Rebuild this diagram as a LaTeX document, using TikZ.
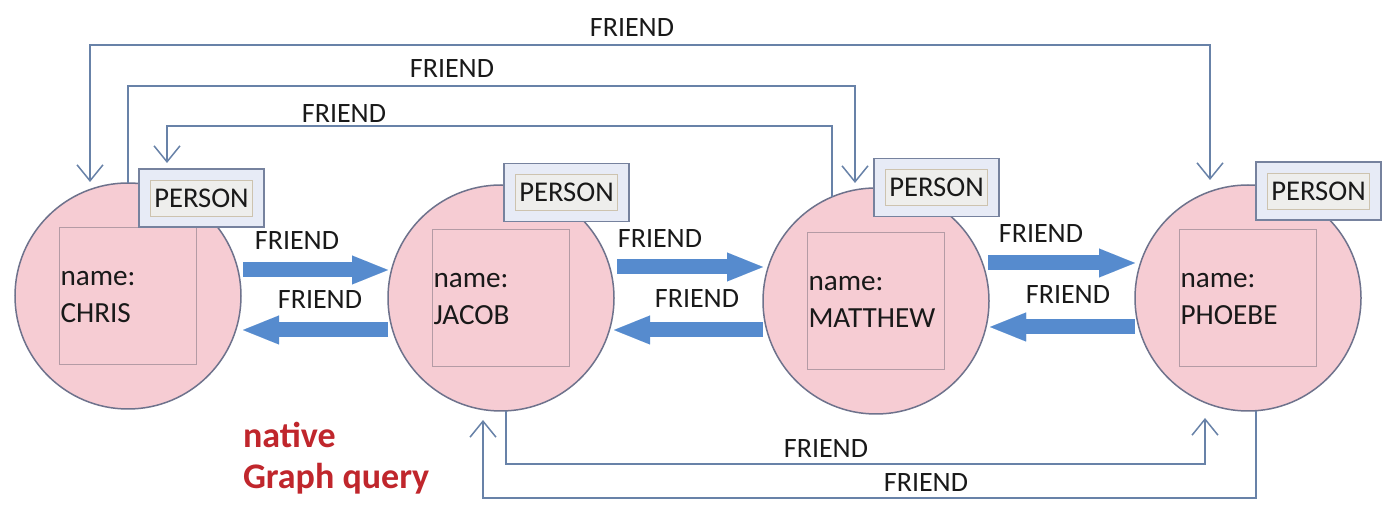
\documentclass[tikz,border=0pt]{standalone}
\usepackage{fontspec}
\setmainfont{Carlito}
\usetikzlibrary{arrows.meta,calc}

\definecolor{nodepink}{RGB}{246,204,211}
\definecolor{nodeedge}{RGB}{110,114,140}
\definecolor{propedge}{RGB}{180,155,165}
\definecolor{lblfill}{RGB}{231,235,246}
\definecolor{lbledge}{RGB}{118,130,158}
\definecolor{tagfill}{RGB}{238,238,236}
\definecolor{tagedge}{RGB}{205,195,175}
\definecolor{linkblue}{RGB}{104,130,168}
\definecolor{fatblue}{RGB}{86,139,206}
\definecolor{textdark}{RGB}{25,25,25}
\definecolor{notered}{RGB}{192,38,44}

\begin{document}
\begin{tikzpicture}[x=0.5pt,y=-0.5pt,
  every node/.style={inner sep=0pt,outer sep=0pt,text=textdark,
    font=\fontsize{14}{17}\selectfont},
  personcircle/.style={circle,draw=nodeedge,fill=nodepink,line width=0.75pt,
    minimum size=113pt},
  propbox/.style={draw=propedge,line width=0.5pt,minimum width=68.5pt,
    minimum height=68.5pt},
  lblbox/.style={draw=lbledge,fill=lblfill,line width=0.9pt,
    minimum width=62.5pt,minimum height=29pt},
  tagbox/.style={draw=tagedge,fill=tagfill,line width=0.4pt,
    minimum width=51pt,minimum height=18pt,font=\fontsize{14.3}{17}\selectfont},
  propline/.style={anchor=base west,font=\fontsize{14.6}{17}\selectfont},
  relname/.style={anchor=base},
  link/.style={draw=linkblue,line width=0.75pt,line join=miter},
  openhead/.style={-{Straight Barb[length=8pt,width=13pt]}},
  bothheads/.style={{Straight Barb[length=8pt,width=13pt]}-{Straight Barb[length=8pt,width=13pt]}},
  fat/.style={draw=fatblue,line width=7.5pt,
    -{Triangle[length=18pt,width=14.5pt,line width=0.01pt]}},
  note/.style={anchor=base west,text=notered,
    font=\bfseries\fontsize{18}{21}\selectfont}
]
\path[use as bounding box,fill=white] (0,0) rectangle (1391,517);

% person nodes
\node[personcircle] (chris)   at (128,296) {};
\node[personcircle] (jacob)   at (501,298) {};
\node[personcircle] (matthew) at (876,301) {};
\node[personcircle] (phoebe)  at (1248,298) {};

% property boxes with their text
\foreach \p/\who in {chris/CHRIS,jacob/JACOB,matthew/MATTHEW,phoebe/PHOEBE}{
  \node[propbox] (\p props) at (\p) {};
  \node[propline] (\p key) at ($(\p props.north west)+(1,58)$) {name:};
  \node[propline] (\p val) at ($(\p props.north west)+(1,95)$) {\who};
}

% label boxes
\node[lblbox] (chrislbl)   at (201.5,198) {};
\node[lblbox] (jacoblbl)   at (566.5,192.5) {};
\node[lblbox] (matthewlbl) at (936.5,187.5) {};
\node[lblbox] (phoebelbl)  at (1318.5,191) {};
\foreach \p in {chris,jacob,matthew,phoebe}{
  \node[tagbox] (\p tag) at (\p lbl) {PERSON};
}

% thin relationship routes above the nodes
\coordinate (aTip) at ($(matthew.north)+(-21,-5)$);
\draw[link,openhead] (chris.north) -- (chris.north |- 0,86)
  -- (aTip |- 0,86) -- (aTip);
\node[relname] (relA) at (452,78) {FRIEND};

\coordinate (bLeft)  at ($(chris.north)+(-38,-1)$);
\coordinate (bRight) at ($(phoebe.north)+(-38,-5)$);
\draw[link,bothheads] (bLeft) -- (bLeft |- 0,45) -- (bRight |- 0,45) -- (bRight);
\node[relname] (relB) at (632,37) {FRIEND};

\coordinate (cTip) at ($(chrislbl.north west)+(28,-6)$);
\draw[link,openhead] (matthew.113) -- (matthew.113 |- 0,126)
  -- (cTip |- 0,126) -- (cTip);
\node[relname] (relC) at (344,123) {FRIEND};

% thin relationship routes below the nodes
\coordinate (dTip) at ($(phoebe.south)+(-43,7)$);
\draw[link,openhead] ($(jacob.south)+(5,0)$) -- ++(0,53) -| (dTip);
\node[relname] (relD) at (826,458) {FRIEND};

\coordinate (eTip) at ($(jacob.south)+(-18,9)$);
\draw[link,openhead] ($(phoebe.south)+(8,0)$) -- ++(0,87) -| (eTip);
\node[relname] (relE) at (926,492) {FRIEND};

% block arrows between neighbours
\draw[fat] ($(chris.east)+(2,-26)$) -- ($(jacob.west)+(0,-28)$);
\draw[fat] ($(jacob.west)+(0,32)$) -- ($(chris.east)+(2,34)$);
\draw[fat] ($(jacob.east)+(3,-31)$) -- ($(matthew.west)+(0,-34)$);
\draw[fat] ($(matthew.west)+(0,29)$) -- ($(jacob.east)+(0,32)$);
\draw[fat] ($(matthew.east)+(-1,-38)$) -- ($(phoebe.west)+(0,-35)$);
\draw[fat] ($(phoebe.west)+(0,29)$) -- ($(matthew.east)+(1,26)$);

\node[relname] (relF1) at (297,250) {FRIEND};
\node[relname] (relF2) at (320,309) {FRIEND};
\node[relname] (relF3) at (660,248) {FRIEND};
\node[relname] (relF4) at (697,308) {FRIEND};
\node[relname] (relF5) at (1041,243) {FRIEND};
\node[relname] (relF6) at (1068,304) {FRIEND};

% caption
\node[note] (note1) at (243,448) {native};
\node[note] (note2) at (243,488) {Graph query};
\end{tikzpicture}
\end{document}
